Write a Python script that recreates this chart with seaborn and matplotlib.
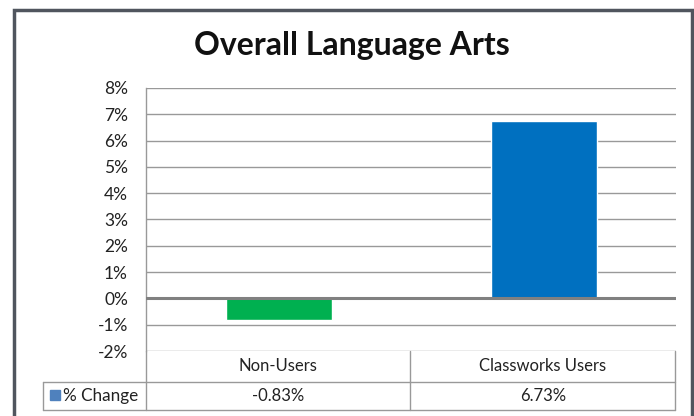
import matplotlib
matplotlib.use("Agg")
import matplotlib.pyplot as plt
import seaborn as sns
import pandas as pd
from matplotlib.patches import Rectangle
from matplotlib.lines import Line2D

# data
categories = ["Non-Users", "Classworks Users"]
pct_change = [-0.83, 6.73]
bar_colors = ["#00b050", "#0070c0"]
series_name = "% Change"
title = "Overall Language Arts"
y_ticks = [-2, -1, 0, 1, 2, 3, 4, 5, 6, 7, 8]

W, H = 694, 416


def fx(px):
    return px / W


def fy(py):
    return 1 - py / H


def main():
    sns.set_theme(style="white")
    plt.rcParams["font.family"] = ["Lato", "DejaVu Sans"]

    df = pd.DataFrame({"group": categories, "value": pct_change})

    fig = plt.figure(figsize=(W / 100, H / 100), dpi=100)
    ax = fig.add_axes([fx(146), fy(351), fx(676) - fx(146), fy(88) - fy(351)])

    sns.barplot(data=df, x="group", y="value", hue="group", palette=bar_colors,
                width=0.4, legend=False, ax=ax, zorder=3, saturation=1)

    ax.set_ylim(-2, 8)
    ax.set_xlim(-0.5, 1.5)
    ax.set_yticks(y_ticks)
    ax.set_yticklabels([f"{t}%" for t in y_ticks])
    ax.tick_params(axis="y", length=0, pad=13, labelsize=12.5, colors="#222222")
    ax.set_xticks([])
    ax.set_xlabel("")
    ax.set_ylabel("")
    for t in y_ticks:
        if t != 0:
            ax.axhline(t, color="#999999", lw=1, zorder=1)
    ax.axhline(0, color="#808080", lw=2.2, zorder=4)
    for s in ["top", "right", "bottom"]:
        ax.spines[s].set_visible(False)
    ax.spines["left"].set_color("#999999")
    ax.spines["left"].set_linewidth(1)

    # data table below the plot
    grid = "#999999"
    lines = [
        ((146, 146), (351, 410)),
        ((410, 410), (351, 410)),
        ((675, 675), (351, 410)),
        ((43, 43), (382, 410)),
        ((43, 675), (382, 382)),
        ((43, 675), (410, 410)),
    ]
    for xs, ys in lines:
        fig.add_artist(Line2D([fx(x) for x in xs], [fy(y) for y in ys],
                              color=grid, lw=1))

    col_centers = [278, 543]
    for cx, cat, val in zip(col_centers, categories, pct_change):
        fig.text(fx(cx), fy(366), cat, ha="center", va="center",
                 fontsize=12, color="#222222")
        fig.text(fx(cx), fy(396), f"{val:.2f}%", ha="center", va="center",
                 fontsize=12, color="#222222")

    fig.add_artist(Rectangle((fx(50), fy(400)), fx(10), fy(390) - fy(400),
                             color="#4f81bd", transform=fig.transFigure))
    fig.text(fx(63), fy(396), series_name, ha="left", va="center",
             fontsize=12.3, color="#222222")

    fig.text(fx(352), fy(45), title, ha="center", va="center",
             fontsize=23, fontweight="bold", color="#111111")

    # outer chart frame
    fig.add_artist(Rectangle((fx(14), fy(430)), fx(692) - fx(14), fy(10) - fy(430),
                             fill=False, edgecolor="#50555e", lw=2.5,
                             transform=fig.transFigure))

    fig.savefig("out.png", dpi=100, facecolor="white")
    plt.close(fig)


if __name__ == "__main__":
    main()
